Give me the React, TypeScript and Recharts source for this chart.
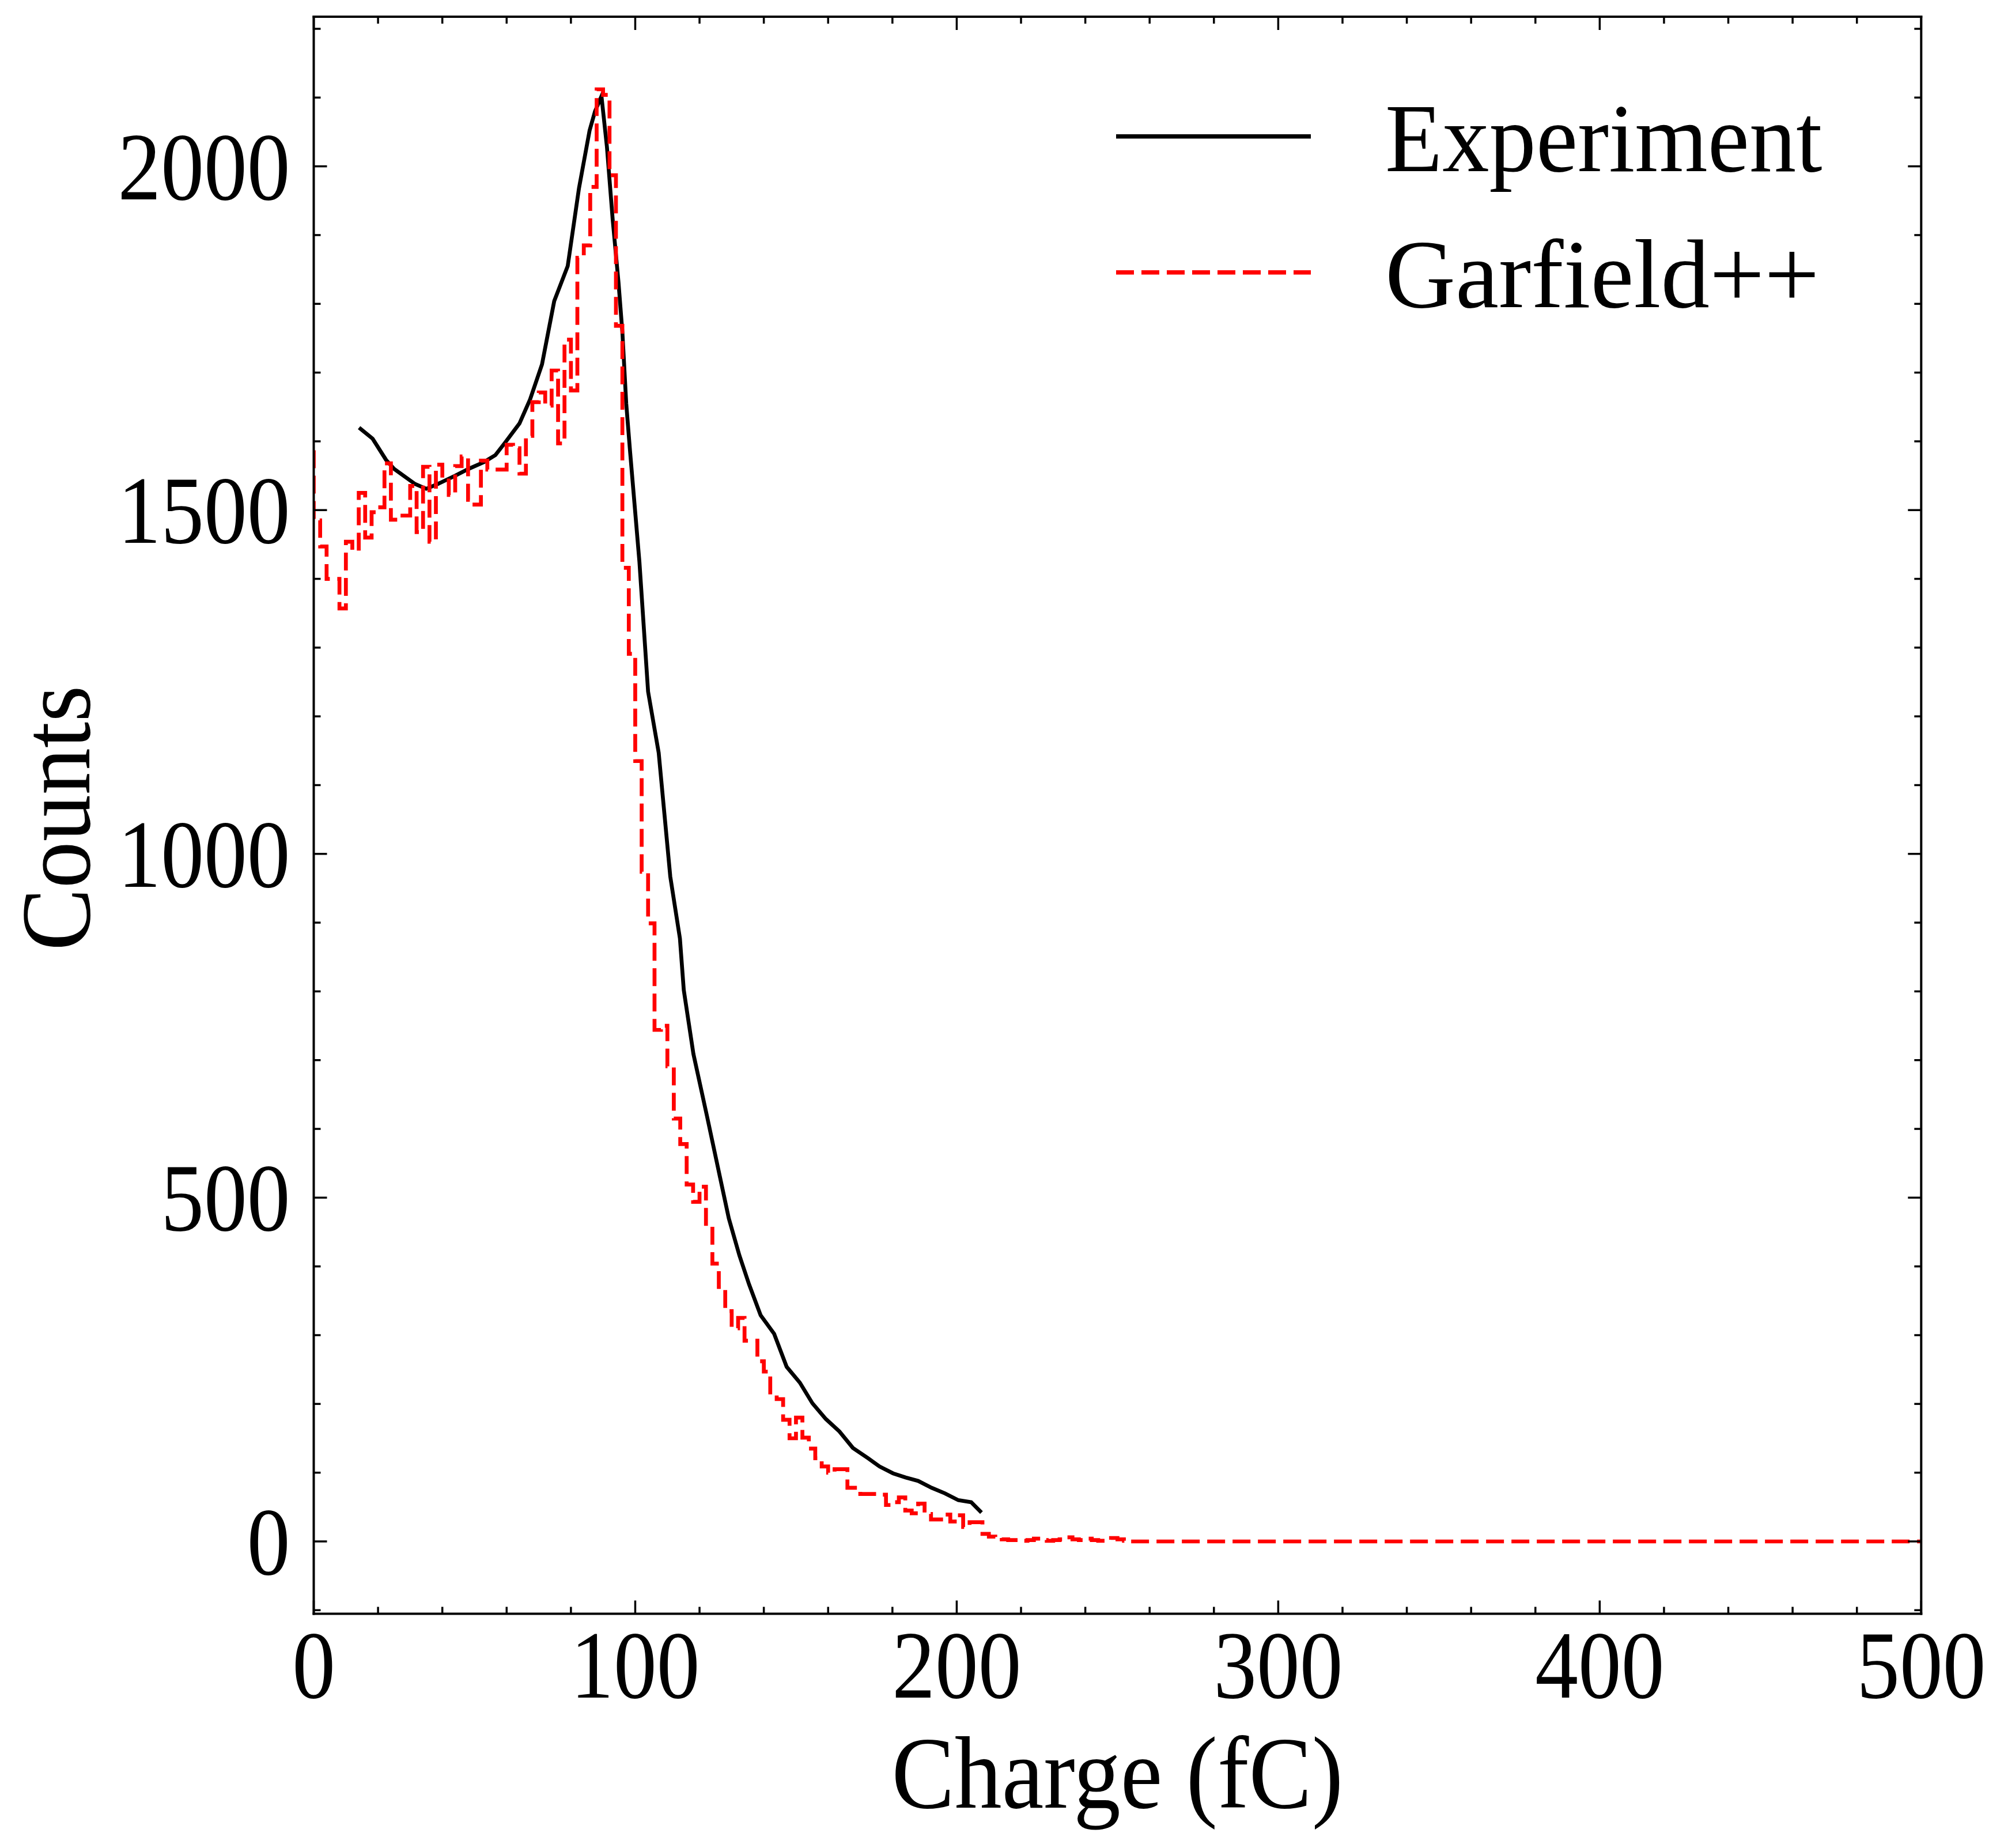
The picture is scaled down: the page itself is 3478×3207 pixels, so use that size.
import React from 'react';
import { LineChart, Line, XAxis, YAxis, Legend } from 'recharts';

// ---------- data ----------
// Experiment (polyline)
const EXP_CHARGE = [
  14.1, 18.3, 22.5, 25.0, 31.5, 35.0, 38.6, 44.0, 48.2, 53.0, 56.5, 59.5, 64.0, 67.3, 71.0,
  74.8, 79.0, 82.5, 85.8, 87.5, 89.5, 91.2, 93.0, 94.8, 96.0, 97.2, 98.4, 101.3, 104.0, 107.3,
  109.1, 110.9, 113.9, 115.1, 118.1, 122.3, 125.9, 129.1, 132.4, 135.4, 139.0, 143.2, 147.1,
  151.2, 155.1, 159.3, 163.5, 167.7, 172.4, 176.0, 180.2, 184.1, 188.0, 192.2, 196.3, 200.5,
  204.5, 207.7,
];
const EXP_COUNTS = [
  1620, 1604, 1573, 1560, 1538, 1531, 1538, 1550, 1560, 1570, 1580, 1598, 1626, 1661, 1712,
  1804, 1855, 1968, 2052, 2080, 2102, 2028, 1922, 1831, 1759, 1655, 1585, 1425, 1236, 1147,
  1057, 967, 877, 802, 709, 619, 540, 470, 416, 374, 329, 302, 254,
  231, 201, 178, 160, 136, 121, 109, 99, 93, 88, 78, 70, 60,
  57, 42,
];

// Garfield++ histogram (2 fC bins starting at 0 fC)
const SIM_BIN_WIDTH = 2;
const SIM_START_COUNT = 1587;
const SIM_COUNTS = [
  1485, 1447, 1400, 1400, 1357, 1454, 1441, 1525, 1460, 1497,
  1504, 1568, 1486, 1492, 1492, 1535, 1468, 1563, 1454, 1566,
  1543, 1522, 1564, 1578, 1515, 1508, 1572, 1559, 1559, 1559,
  1595, 1590, 1553, 1608, 1657, 1671, 1652, 1703, 1597, 1748,
  1674, 1867, 1885, 1970, 2112, 2104, 1987, 1768, 1416, 1291,
  1135, 974, 899, 744, 750, 691, 615, 578, 519, 494,
  516, 459, 404, 370, 335, 310, 325, 292, 292, 262,
  247, 213, 207, 177, 150, 180, 151, 135, 121, 109,
  100, 105, 105, 78, 78, 69, 69, 69, 68, 53,
  57, 64, 45, 41, 55, 40, 32, 32, 39, 29,
  38, 21, 28, 28, 11, 7, 5, 3, 2, 2,
  1, 2, 4, 2, 1, 2, 3, 6, 3, 2,
  4, 2, 1, 2, 5, 3, 1,
];
const SIM_END_CHARGE = 500;
const SIM_END_COUNT = 0;

// ticks
const X_TICKS = [0, 20, 40, 60, 80, 100, 120, 140, 160, 180, 200, 220, 240, 260, 280, 300, 320, 340, 360, 380, 400, 420, 440, 460, 480, 500];
const X_MAJOR = [0, 100, 200, 300, 400, 500];
const Y_TICKS = [-100, 0, 100, 200, 300, 400, 500, 600, 700, 800, 900, 1000, 1100, 1200, 1300, 1400, 1500, 1600, 1700, 1800, 1900, 2000, 2100, 2200];
const Y_MAJOR = [0, 500, 1000, 1500, 2000];
const X_DOMAIN = [0, 500];
const Y_DOMAIN = [-105.2, 2217.6];

const SERIES_NAMES = { exp: 'Experiment', sim: 'Garfield++' };

// ---------- build ----------
const expData = EXP_CHARGE.map((x, i) => ({ x, y: EXP_COUNTS[i] }));
const simData = [
  { x: 0, y: SIM_START_COUNT },
  ...SIM_COUNTS.map((y, i) => ({ x: (i + 1) * SIM_BIN_WIDTH, y })),
  { x: SIM_END_CHARGE, y: SIM_END_COUNT },
];

// ---------- styles ----------
const FONT = '"Liberation Serif", "Times New Roman", serif';
const TICK_FS = 168;
const TICK_SX = 0.89;
const LABEL_FS = 178;
const LABEL_SX = 0.92;
const YLABEL_FS = 172;
const YLABEL_SX = 0.944;
const LEGEND_FS = 169;
const MAJOR_LEN = 23;
const MINOR_LEN = 12;
const TICK_W = 3.5;
const SPINE_W = 4;
const LINE_W = 6.7;
const DASH = '31 13';

const SText = ({ x, y, size, sx, anchor, rotate, children }: any) => (
  <g transform={`translate(${x},${y})${rotate ? ` rotate(${rotate})` : ''} scale(${sx},1)`}>
    <text x={0} y={0} textAnchor={anchor || 'start'} fontFamily={FONT} fontSize={size} fill="#000">
      {children}
    </text>
  </g>
);

const BottomTick = (props: any) => {
  const { x, y, payload } = props;
  const major = X_MAJOR.includes(payload.value);
  return (
    <g>
      <line x1={x} x2={x} y1={y} y2={y - (major ? MAJOR_LEN : MINOR_LEN)} stroke="#000" strokeWidth={TICK_W} />
      {major && (
        <SText x={x} y={y + 145} size={TICK_FS} sx={TICK_SX} anchor="middle">
          {payload.value}
        </SText>
      )}
    </g>
  );
};

const TopTick = (props: any) => {
  const { x, y, payload } = props;
  const major = X_MAJOR.includes(payload.value);
  return <line x1={x} x2={x} y1={y} y2={y + (major ? MAJOR_LEN : MINOR_LEN)} stroke="#000" strokeWidth={TICK_W} />;
};

const LeftTick = (props: any) => {
  const { x, y, payload } = props;
  const major = Y_MAJOR.includes(payload.value);
  return (
    <g>
      <line x1={x} x2={x + (major ? MAJOR_LEN : MINOR_LEN)} y1={y} y2={y} stroke="#000" strokeWidth={TICK_W} />
      {major && (
        <SText x={x - 41} y={y + 57} size={TICK_FS} sx={TICK_SX} anchor="end">
          {payload.value}
        </SText>
      )}
    </g>
  );
};

const RightTick = (props: any) => {
  const { x, y, payload } = props;
  const major = Y_MAJOR.includes(payload.value);
  return <line x1={x} x2={x - (major ? MAJOR_LEN : MINOR_LEN)} y1={y} y2={y} stroke="#000" strokeWidth={TICK_W} />;
};

const XLabel = (props: any) => {
  const vb = props.viewBox || {};
  return (
    <SText x={vb.x + vb.width / 2} y={vb.y + 336.5} size={LABEL_FS} sx={LABEL_SX} anchor="middle">
      Charge (fC)
    </SText>
  );
};

const YLabel = (props: any) => {
  const vb = props.viewBox || {};
  return (
    <SText x={vb.x + 155} y={vb.y + vb.height / 2 + 5} size={YLABEL_FS} sx={YLABEL_SX} anchor="middle" rotate={-90}>
      Counts
    </SText>
  );
};

const LegendContent = (props: any) => {
  const items = (props.payload || []).filter((p: any) => p.type !== 'none');
  return (
    <svg width={1400} height={450} style={{ overflow: 'visible' }}>
      {items.map((item: any, i: number) => {
        const isSim = item.value === SERIES_NAMES.sim;
        const cy = 86.7 + i * 236;
        return (
          <g key={i}>
            <line
              x1={39}
              x2={377}
              y1={cy}
              y2={cy}
              stroke={item.color}
              strokeWidth={LINE_W + 0.8}
              strokeDasharray={isSim ? DASH : undefined}
            />
            <SText x={506} y={cy + 60} size={LEGEND_FS} sx={isSim ? 1.0 : 0.962}>
              {item.value}
            </SText>
          </g>
        );
      })}
    </svg>
  );
};

export default function App() {
  return (
    <div style={{ position: 'absolute', left: 0, top: 0, width: 3478, height: 3207, background: '#fff' }}>
      <LineChart width={3478} height={3207} margin={{ top: 0, right: 0, bottom: 0, left: 0 }}>
        <XAxis
          xAxisId="b"
          type="number"
          dataKey="x"
          orientation="bottom"
          height={406.5}
          domain={X_DOMAIN}
          allowDataOverflow
          ticks={X_TICKS}
          interval={0}
          tickSize={0}
          tickMargin={0}
          tickLine={false}
          tick={<BottomTick />}
          axisLine={{ stroke: '#000', strokeWidth: SPINE_W, strokeLinecap: 'square' }}
          label={{ content: <XLabel /> }}
        />
        <XAxis
          xAxisId="t"
          type="number"
          dataKey="x"
          orientation="top"
          height={29}
          domain={X_DOMAIN}
          allowDataOverflow
          ticks={X_TICKS}
          interval={0}
          tickSize={0}
          tickMargin={0}
          tickLine={false}
          tick={<TopTick />}
          axisLine={{ stroke: '#000', strokeWidth: SPINE_W, strokeLinecap: 'square' }}
        />
        <YAxis
          yAxisId="l"
          type="number"
          orientation="left"
          width={544.5}
          domain={Y_DOMAIN}
          allowDataOverflow
          ticks={Y_TICKS}
          interval={0}
          tickSize={0}
          tickMargin={0}
          tickLine={false}
          tick={<LeftTick />}
          axisLine={{ stroke: '#000', strokeWidth: SPINE_W, strokeLinecap: 'square' }}
          label={{ content: <YLabel /> }}
        />
        <YAxis
          yAxisId="r"
          type="number"
          orientation="right"
          width={143.7}
          domain={Y_DOMAIN}
          allowDataOverflow
          ticks={Y_TICKS}
          interval={0}
          tickSize={0}
          tickMargin={0}
          tickLine={false}
          tick={<RightTick />}
          axisLine={{ stroke: '#000', strokeWidth: SPINE_W, strokeLinecap: 'square' }}
        />
        <Line
          data={expData}
          dataKey="y"
          xAxisId="t"
          yAxisId="r"
          stroke="none"
          dot={false}
          activeDot={false}
          legendType="none"
          isAnimationActive={false}
        />
        <Line
          data={expData}
          dataKey="y"
          name={SERIES_NAMES.exp}
          xAxisId="b"
          yAxisId="l"
          type="linear"
          stroke="#000000"
          strokeWidth={LINE_W}
          dot={false}
          activeDot={false}
          isAnimationActive={false}
        />
        <Line
          data={simData}
          dataKey="y"
          name={SERIES_NAMES.sim}
          xAxisId="b"
          yAxisId="l"
          type="stepBefore"
          stroke="#ff0000"
          strokeWidth={LINE_W}
          strokeDasharray={DASH}
          dot={false}
          activeDot={false}
          isAnimationActive={false}
        />
        <Legend
          layout="horizontal"
          verticalAlign="middle"
          align="center"
          content={<LegendContent />}
          wrapperStyle={{ position: 'absolute', left: 1898, top: 150, width: 1400, height: 450 }}
        />
      </LineChart>
    </div>
  );
}
